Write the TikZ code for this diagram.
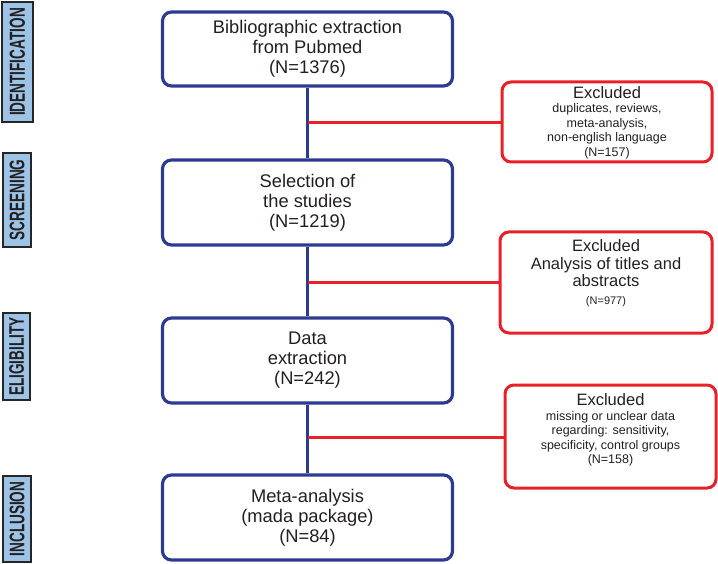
\documentclass[tikz,border=0pt]{standalone}
\usepackage{fontspec}
\setmainfont{Liberation Sans}
\usepackage{graphicx}
\definecolor{flowblue}{HTML}{2E3A92}
\definecolor{exred}{HTML}{E8202A}
\definecolor{phaseblue}{HTML}{9DC3E6}
\definecolor{txt}{HTML}{231F20}
\begin{document}
\begin{tikzpicture}[x=1pt,y=-1pt,
  stagebox/.style={draw=flowblue, line width=3.2pt, rounded corners=9pt, minimum width=290pt,
    align=center, inner sep=0pt, text=txt, font=\fontsize{18.3}{20}\selectfont},
  exclbox/.style={draw=exred, line width=3pt, rounded corners=9pt, inner sep=0pt},
  excltext/.style={align=center, inner sep=0pt, text=txt, font=\fontsize{12.5}{14.5}\selectfont},
  phase/.style={draw=black!85, line width=1.6pt, fill=phaseblue, rotate=90, inner sep=0pt,
    text=txt, font=\bfseries\fontsize{13.6}{14}\selectfont},
  blueline/.style={draw=flowblue, line width=3.2pt},
  redline/.style={draw=exred, line width=3pt}]
\useasboundingbox (0,0) rectangle (718,564);
% phase labels
\node[phase, minimum width=120pt, minimum height=31pt] (p1) at (17.5,62) {\scalebox{1}[1.6]{IDENTIFICATION}};
\node[phase, minimum width=94pt, minimum height=28pt] (p2) at (17,200) {\scalebox{1}[1.55]{SCREENING}};
\node[phase, minimum width=87pt, minimum height=27pt] (p3) at (16.5,356.5) {\scalebox{1}[1.55]{ELIGIBILITY}};
\node[phase, minimum width=86pt, minimum height=28pt] (p4) at (17,519) {\scalebox{1}[1.55]{INCLUSION}};
% main boxes
\node[stagebox, minimum height=74pt] (b1) at (307.5,49) {Bibliographic extraction\\from Pubmed\\(N=1376)};
\node[stagebox, minimum height=85pt] (b2) at (307.5,202.5) {Selection of\\the studies\\(N=1219)};
\node[stagebox, minimum height=85pt] (b3) at (307.5,360.5) {Data\\extraction\\(N=242)};
\node[stagebox, minimum height=85pt] (b4) at (307.5,517.5) {Meta-analysis\\(mada package)\\(N=84)};
% excluded boxes
\node[exclbox, minimum width=210pt, minimum height=80pt] (r1) at (607,122) {};
\node[exclbox, minimum width=212pt, minimum height=101pt] (r2) at (606,282.5) {};
\node[exclbox, minimum width=211pt, minimum height=103pt] (r3) at (610.5,436.5) {};
\node[excltext] (t1) at (607,122.5) {{\fontsize{16.5}{18}\selectfont Excluded}\\duplicates, reviews,\\meta-analysis,\\non-english language\\(N=157)};
\node[excltext, font=\fontsize{16.5}{17.5}\selectfont] (t2) at (606,273) {Excluded\\Analysis of titles and\\abstracts\\{\fontsize{11}{13}\selectfont (N=977)}};
\node[excltext] (t3) at (610.5,430) {{\fontsize{16.5}{18}\selectfont Excluded}\\missing or unclear data\\regarding: sensitivity,\\specificity, control groups\\(N=158)};
% connectors
\draw[blueline] (b1.south) -- (b2.north);
\draw[blueline] (b2.south) -- (b3.north);
\draw[blueline] (b3.south) -- (b4.north);
\coordinate (j1) at (307.5,123);
\coordinate (j2) at (307.5,283);
\coordinate (j3) at (307.5,437);
\draw[redline] (j1) -- (j1 -| r1.west);
\draw[redline] (j2) -- (j2 -| r2.west);
\draw[redline] (j3) -- (j3 -| r3.west);
\end{tikzpicture}
\end{document}
